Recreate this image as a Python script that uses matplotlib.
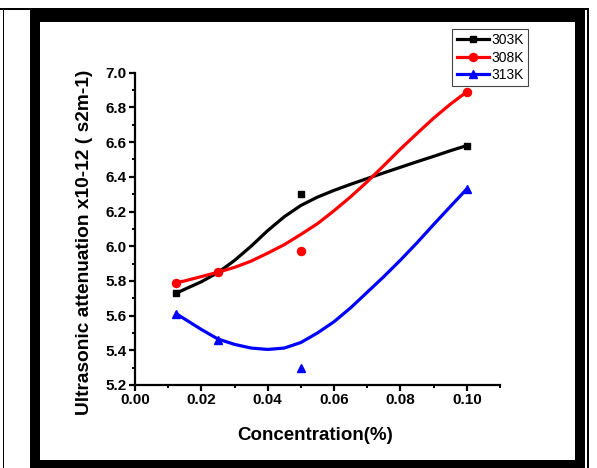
#!/usr/bin/env python3
"""Ultrasonic attenuation vs concentration at three temperatures."""

import matplotlib

matplotlib.use("Agg")
import matplotlib.pyplot as plt
from matplotlib.lines import Line2D
from matplotlib.patches import Rectangle

plt.rcParams["font.family"] = ["Liberation Sans", "DejaVu Sans"]

# measured points
conc = [0.0125, 0.025, 0.05, 0.1]
att_303 = [5.73, 5.85, 6.30, 6.58]
att_308 = [5.79, 5.85, 5.97, 6.89]
att_313 = [5.61, 5.46, 5.30, 6.33]

# smooth curves
curve_x = [0.0125, 0.015, 0.02, 0.025, 0.03, 0.035, 0.04, 0.045, 0.05, 0.055,
           0.06, 0.065, 0.07, 0.075, 0.08, 0.085, 0.09, 0.095, 0.1]
curve_303 = [5.73, 5.752, 5.795, 5.848, 5.918, 6.0, 6.09, 6.17, 6.235, 6.283,
             6.322, 6.357, 6.39, 6.423, 6.455, 6.487, 6.518, 6.55, 6.58]
curve_308 = [5.79, 5.80, 5.825, 5.85, 5.878, 5.914, 5.96, 6.009, 6.068, 6.13,
             6.205, 6.285, 6.372, 6.465, 6.56, 6.65, 6.738, 6.818, 6.89]
curve_313 = [5.61, 5.58, 5.52, 5.465, 5.434, 5.413, 5.405, 5.413, 5.445, 5.50,
             5.565, 5.645, 5.735, 5.825, 5.92, 6.02, 6.125, 6.228, 6.33]

labels = ["303K", "308K", "313K"]
colors = ["black", "red", "blue"]
markers = ["s", "o", "^"]
msizes = [4.8, 5.8, 5.8]

W, H = 597, 468


def px_rect(fig, x0, y0, x1, y1, color="black"):
    # rectangle given in image pixels (origin top-left)
    fig.add_artist(Rectangle((x0 / W, 1 - y1 / H), (x1 - x0) / W, (y1 - y0) / H,
                             transform=fig.transFigure, facecolor=color,
                             edgecolor="none", zorder=10))


fig = plt.figure(figsize=(W / 100, H / 100), dpi=100)
ax = fig.add_axes([135 / W, 1 - 385 / H, 365 / W, (385 - 72.7) / H])

points = [att_303, att_308, att_313]
curves = [curve_303, curve_308, curve_313]
handles = []
for pts, cur, lab, c, m, ms in zip(points, curves, labels, colors, markers, msizes):
    ax.plot(curve_x, cur, color=c, lw=2.3, solid_capstyle="round",
            solid_joinstyle="round", zorder=2)
    ax.plot(conc, pts, linestyle="none", marker=m, ms=ms, color=c, zorder=3)
    handles.append(Line2D([], [], color=c, lw=2.3, marker=m, ms=ms))

ax.set_xlim(0, 0.11)
ax.set_ylim(5.2, 7.0)
ax.set_xticks([0.0, 0.02, 0.04, 0.06, 0.08, 0.10])
ax.set_xticklabels(["0.00", "0.02", "0.04", "0.06", "0.08", "0.10"])
ax.set_xticks([0.01, 0.03, 0.05, 0.07, 0.09, 0.11], minor=True)
ax.set_yticks([5.2, 5.4, 5.6, 5.8, 6.0, 6.2, 6.4, 6.6, 6.8, 7.0])
ax.set_yticklabels(["5.2", "5.4", "5.6", "5.8", "6.0", "6.2", "6.4", "6.6", "6.8", "7.0"])
ax.set_yticks([5.3 + 0.2 * i for i in range(9)], minor=True)

for side in ["top", "right"]:
    ax.spines[side].set_visible(False)
for side in ["left", "bottom"]:
    ax.spines[side].set_linewidth(1.6)

ax.tick_params(which="major", direction="out", length=4, width=1.6,
               labelsize=11, pad=2)
ax.tick_params(which="minor", direction="out", length=2.5, width=1.4)
for t in ax.get_xticklabels() + ax.get_yticklabels():
    t.set_fontweight("bold")

fig.text(315 / W, 1 - 436 / H, "Concentration(%)", ha="center", va="center",
         fontsize=13.5, fontweight="bold")
fig.text(85 / W, 1 - 242 / H, "Ultrasonic attenuation x10-12 ( s2m-1)",
         ha="center", va="center", rotation=90, fontsize=13.8, fontweight="bold")

leg = ax.legend(handles, labels, loc="upper right",
                bbox_to_anchor=(528 / W, 1 - 29 / H), bbox_transform=fig.transFigure,
                fontsize=10, frameon=True, fancybox=False, framealpha=1,
                edgecolor="#444444", handlelength=2.3, handletextpad=0.2,
                labelspacing=0.25, borderpad=0.3, borderaxespad=0, numpoints=1)
leg.get_frame().set_linewidth(0.8)

# page frame
px_rect(fig, 0, 8.3, 588.5, 10)
px_rect(fig, 3, 8.3, 4.3, H)
px_rect(fig, 587.3, 8.3, 588.5, H)
px_rect(fig, 30, 8.3, 585, 22)
px_rect(fig, 30, 8.3, 40, H)
px_rect(fig, 575, 8.3, 585, H)
px_rect(fig, 30, 460, 585, H)

fig.savefig("out.png", dpi=100)
